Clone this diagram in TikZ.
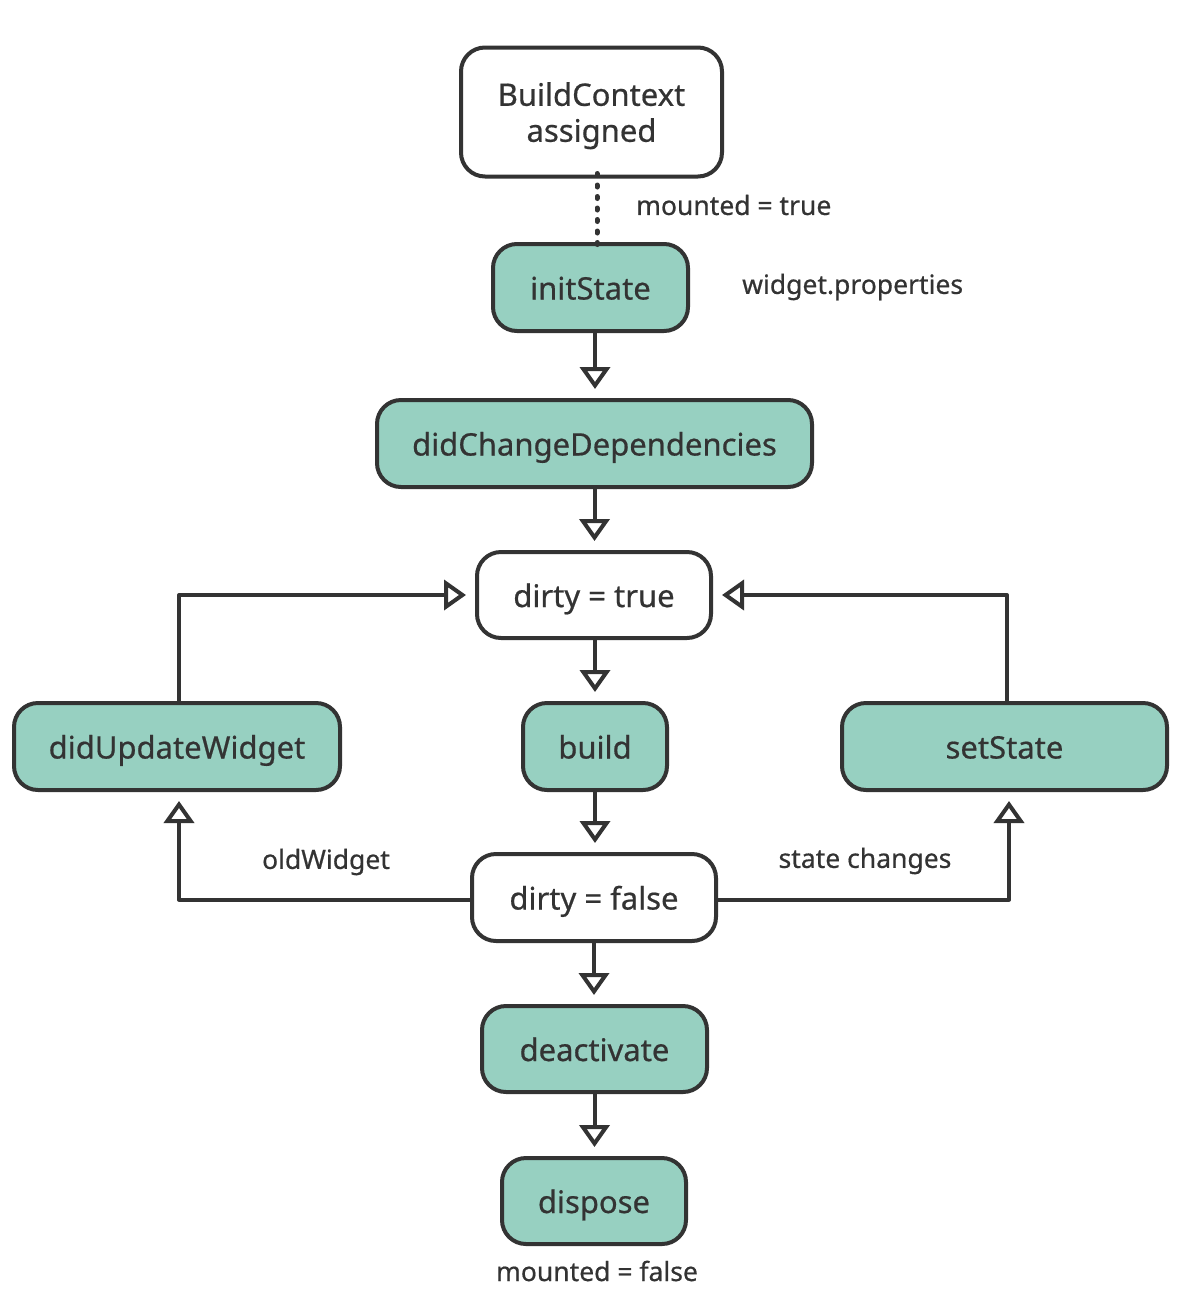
\documentclass[tikz,border=0pt]{standalone}
\usepackage{fontspec}
\setmainfont{Noto Sans}[FakeBold=0.6]
\usetikzlibrary{arrows.meta}
\definecolor{ink}{HTML}{333333}
\definecolor{stagefill}{HTML}{97D0C1}
\begin{document}
\begin{tikzpicture}[x=1pt,y=-1pt,
  box/.style={draw=ink, line width=4pt, rounded corners=24pt, minimum height=87pt,
    inner sep=0pt, text=ink, align=center, font=\fontsize{31}{36}\selectfont},
  stage/.style={box, fill=stagefill, text height=24pt, text depth=0pt},
  plain/.style={box, fill=white},
  flow/.style={draw=ink, line width=4pt, line join=round,
    -{Triangle[open, length=22pt, width=30pt, line width=4pt]}, shorten >=9pt},
  note/.style={text=ink, inner sep=0pt, font=\fontsize{26.5}{30}\selectfont}]
\useasboundingbox (0,0) rectangle (1190,1310);

% lifecycle nodes
\node[plain, minimum width=261pt, minimum height=129pt] (bc) at (591.5,112) {\rule{0pt}{31pt}BuildContext\\assigned};
\node[stage, minimum width=195pt] (init) at (590.5,287.5) {initState};
\node[stage, minimum width=435pt] (dcd) at (594.5,443.5) {didChangeDependencies};
\node[plain, text height=24pt, text depth=0pt, minimum width=234pt, minimum height=86pt] (dtrue) at (594,595) {dirty = true};
\node[stage, minimum width=326pt] (upd) at (177,746.5) {didUpdateWidget};
\node[stage, minimum width=144pt] (build) at (595,746.5) {build};
\node[stage, minimum width=325pt] (set) at (1004.5,746.5) {setState};
\node[plain, text height=24pt, text depth=0pt, minimum width=244pt] (dfalse) at (594,897.5) {dirty = false};
\node[stage, minimum width=225pt, minimum height=86pt] (deact) at (594.5,1049) {deactivate};
\node[stage, minimum width=184pt, minimum height=86pt] (disp) at (594,1201) {dispose};

% annotations
\node[note, anchor=west] (mt) at (636,205) {mounted = true};
\node[note, anchor=west] (wp) at (742,287) {widget.properties};
\node[note] (ow) at (326,862) {oldWidget};
\node[note] (sc) at (865,861) {state changes};
\node[note] (mf) at (597,1271) {mounted = false};

% connectors
\draw[ink, line width=5pt, line cap=round, dash pattern=on 2pt off 9.5pt]
  ([xshift=5.5pt,yshift=5pt]bc.south) -- ([xshift=6.5pt,yshift=-8pt]init.north);
\draw[flow] ([xshift=4.5pt]init.south) -- ([xshift=4.5pt]init.south |- dcd.north);
\draw[flow] (dcd.south) -- (dcd.south |- dtrue.north);
\draw[flow] ([xshift=1pt]dtrue.south) -- ([xshift=1pt]dtrue.south |- build.north);
\draw[flow] (build.south) -- (build.south |- dfalse.north);
\draw[flow] (dfalse.south) -- (dfalse.south |- deact.north);
\draw[flow] (deact.south) -- (deact.south |- disp.north);
\draw[flow] ([xshift=2pt]upd.north) |- (dtrue.west);
\draw[flow] ([xshift=2.5pt]set.north) |- (dtrue.east);
\draw[flow] ([yshift=-2pt]dfalse.west) -| ([xshift=2pt]upd.south);
\draw[flow] ([yshift=-2pt]dfalse.east) -| ([xshift=4.5pt]set.south);
\end{tikzpicture}
\end{document}
